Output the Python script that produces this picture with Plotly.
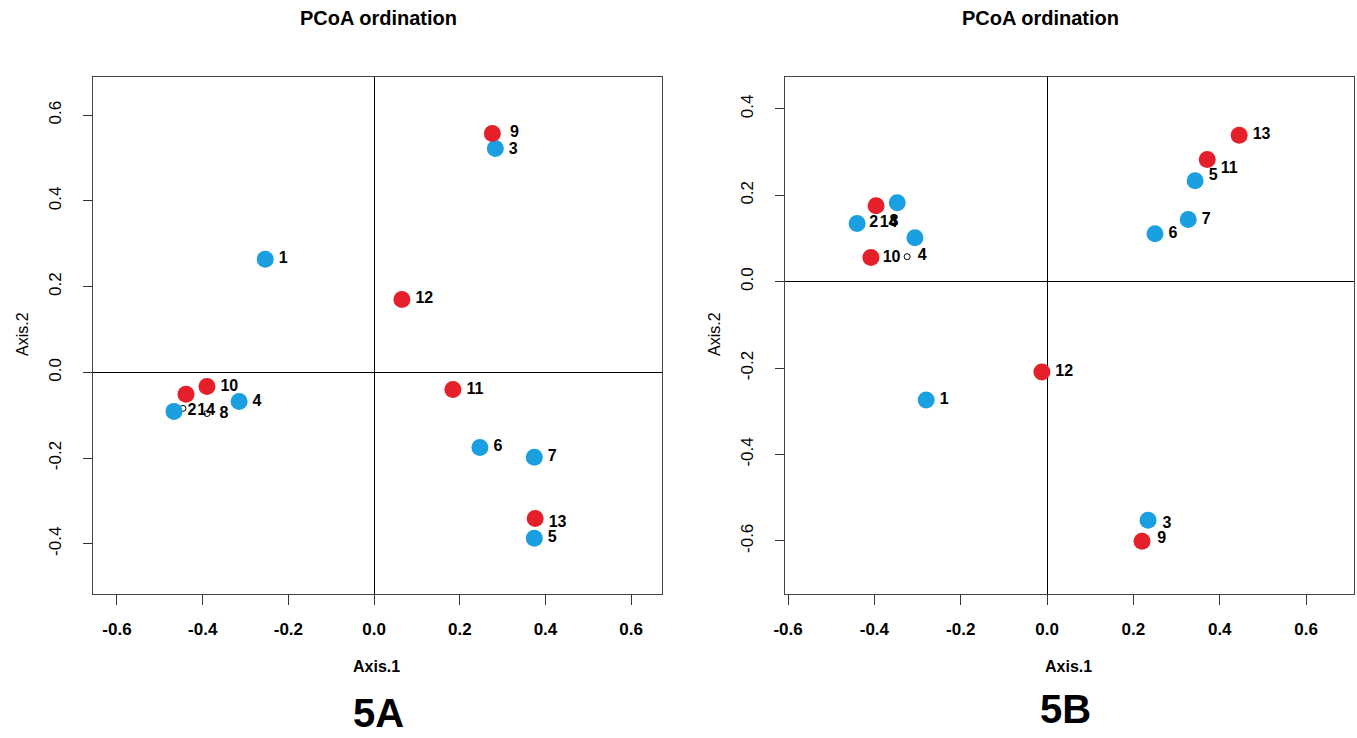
import plotly.graph_objects as go

W, H = 1357, 738

# ---------------- Panel 5A ----------------
a_blue_lab = ["1", "2", "3", "4", "5", "6", "7"]
a_blue_x = [-0.254, -0.467, 0.283, -0.315, 0.374, 0.247, 0.374]
a_blue_y = [0.264, -0.091, 0.522, -0.068, -0.387, -0.175, -0.198]
a_red_lab = ["9", "10", "11", "12", "13", "14"]
a_red_x = [0.276, -0.390, 0.184, 0.065, 0.376, -0.439]
a_red_y = [0.557, -0.033, -0.040, 0.170, -0.341, -0.051]
# site scores (labels)
a_site_lab = ["1", "2", "3", "4", "5", "6", "7", "8", "9", "10", "11", "12", "13", "14"]
a_site_x = [-0.254, -0.467, 0.283, -0.315, 0.374, 0.247, 0.374, -0.392, 0.286, -0.390, 0.184, 0.065, 0.376, -0.444]
a_site_y = [0.264, -0.091, 0.518, -0.068, -0.387, -0.175, -0.198, -0.096, 0.558, -0.033, -0.040, 0.170, -0.352, -0.090]
# open circles left visible
a_open_x = [-0.446, -0.390]
a_open_y = [-0.084, -0.096]

# ---------------- Panel 5B ----------------
b_blue_lab = ["1", "2", "3", "4", "5", "6", "7", "8"]
b_blue_x = [-0.280, -0.440, 0.234, -0.306, 0.343, 0.250, 0.327, -0.347]
b_blue_y = [-0.274, 0.135, -0.552, 0.102, 0.234, 0.111, 0.144, 0.183]
b_red_lab = ["9", "10", "11", "12", "13", "14"]
b_red_x = [0.220, -0.408, 0.371, -0.012, 0.445, -0.396]
b_red_y = [-0.601, 0.056, 0.283, -0.209, 0.339, 0.176]
b_site_lab = ["1", "2", "3", "4", "5", "6", "7", "8", "9", "10", "11", "12", "13", "14"]
b_site_x = [-0.280, -0.443, 0.236, -0.331, 0.343, 0.250, 0.327, -0.396, 0.224, -0.412, 0.371, -0.012, 0.445, -0.419]
b_site_y = [-0.274, 0.135, -0.561, 0.060, 0.245, 0.111, 0.144, 0.139, -0.595, 0.056, 0.262, -0.209, 0.339, 0.137]
b_open_x = [-0.324]
b_open_y = [0.058]

x_ticks = [-0.6, -0.4, -0.2, 0.0, 0.2, 0.4, 0.6]
x_tick_text = ["-0.6", "-0.4", "-0.2", "0.0", "0.2", "0.4", "0.6"]
a_y_ticks = [-0.4, -0.2, 0.0, 0.2, 0.4, 0.6]
a_y_tick_text = ["-0.4", "-0.2", "0.0", "0.2", "0.4", "0.6"]
b_y_ticks = [-0.6, -0.4, -0.2, 0.0, 0.2, 0.4]
b_y_tick_text = ["-0.6", "-0.4", "-0.2", "0.0", "0.2", "0.4"]

BLUE = "#1A9FE0"
RED = "#E5202A"
FONT = "Liberation Sans, Arial, sans-serif"

fig = go.Figure()

def add_panel(xa, ya, site_lab, site_x, site_y, ox, oy, bx, by, rx, ry):
    fig.add_trace(go.Scatter(
        x=ox, y=oy, mode="markers",
        marker=dict(size=6, color="white", line=dict(color="black", width=1)),
        xaxis=xa, yaxis=ya, showlegend=False, hoverinfo="skip"))
    fig.add_trace(go.Scatter(
        x=bx, y=by, mode="markers",
        marker=dict(size=17, color=BLUE, line=dict(width=0)),
        xaxis=xa, yaxis=ya, showlegend=False))
    fig.add_trace(go.Scatter(
        x=rx, y=ry, mode="markers",
        marker=dict(size=17, color=RED, line=dict(width=0)),
        xaxis=xa, yaxis=ya, showlegend=False))
    fig.add_trace(go.Scatter(
        x=site_x, y=site_y, mode="markers+text", text=site_lab,
        textposition="middle right",
        textfont=dict(family=FONT, size=16, color="black", weight="bold"),
        marker=dict(size=20, opacity=0),
        xaxis=xa, yaxis=ya, showlegend=False, hoverinfo="skip"))

add_panel("x", "y", a_site_lab, a_site_x, a_site_y, a_open_x, a_open_y,
          a_blue_x, a_blue_y, a_red_x, a_red_y)
add_panel("x2", "y2", b_site_lab, b_site_x, b_site_y, b_open_x, b_open_y,
          b_blue_x, b_blue_y, b_red_x, b_red_y)

def px_x(p):
    return p / W

def px_y(p):
    return 1 - p / H

ydom = [px_y(594), px_y(77)]

common_x = dict(
    tickvals=x_ticks, ticktext=x_tick_text, ticks="outside", ticklen=10, tickwidth=1,
    tickcolor="#333", showline=True, linecolor="#444", linewidth=1, mirror=True,
    showgrid=False, zeroline=True, zerolinecolor="black", zerolinewidth=1,
    tickfont=dict(family=FONT, size=17, color="black", weight="bold"),
    ticklabelstandoff=10, automargin=False,
)
common_y = dict(
    ticks="outside", ticklen=9, tickwidth=1, tickcolor="#333",
    showline=True, linecolor="#444", linewidth=1, mirror=True,
    showgrid=False, zeroline=True, zerolinecolor="black", zerolinewidth=1,
    tickangle=-90, tickfont=dict(family=FONT, size=17, color="black"),
    ticklabelstandoff=15, automargin=False,
)

fig.update_layout(
    width=W, height=H, margin=dict(l=0, r=0, t=0, b=0, autoexpand=False),
    paper_bgcolor="white", plot_bgcolor="white",
    xaxis=dict(domain=[px_x(93), px_x(662)], range=[-0.656, 0.672], anchor="y", **common_x),
    yaxis=dict(domain=ydom, range=[-0.517, 0.689], anchor="x",
               tickvals=a_y_ticks, ticktext=a_y_tick_text, **common_y),
    xaxis2=dict(domain=[px_x(785), px_x(1354)], range=[-0.607, 0.711], anchor="y2", **common_x),
    yaxis2=dict(domain=ydom, range=[-0.723, 0.474], anchor="x2",
                tickvals=b_y_ticks, ticktext=b_y_tick_text, **common_y),
)

def ann(text, x, y, size, bold=True, angle=0):
    fig.add_annotation(
        text=f"<b>{text}</b>" if bold else text, x=px_x(x), y=px_y(y),
        xref="paper", yref="paper", xanchor="center", yanchor="middle",
        showarrow=False, textangle=angle,
        font=dict(family=FONT, size=size, color="black"))

ann("PCoA ordination", 378, 18, 20)
ann("PCoA ordination", 1040, 18, 20)
ann("Axis.1", 376, 666, 16)
ann("Axis.1", 1068, 666, 16)
ann("Axis.2", 22, 334, 16, bold=False, angle=-90)
ann("Axis.2", 714, 334, 16, bold=False, angle=-90)
ann("5A", 378, 713, 40)
ann("5B", 1065, 709, 40)

fig.write_html("out.html", config={"displayModeBar": False},
               post_script="document.body.style.margin='0';document.body.style.overflow='hidden';")
